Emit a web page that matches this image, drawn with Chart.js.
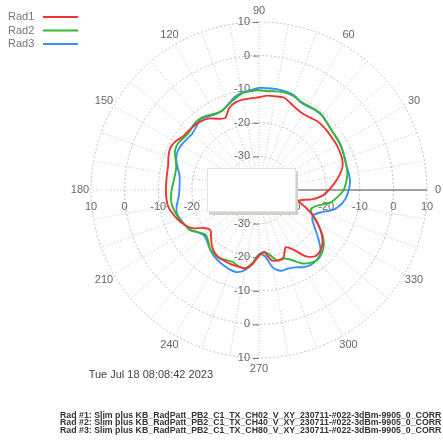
<!DOCTYPE html>
<html>
<head>
<meta charset="utf-8">
<script src="https://cdn.jsdelivr.net/npm/chart.js@4"></script>
<style>
  body { margin: 0; background: #fff; }
  #wrap { position: relative; width: 443px; height: 447px; overflow: hidden; }
  #stamp { position: absolute; right: 230px; top: 368px; font: 11px "Liberation Sans", Arial, sans-serif; color: #444; white-space: nowrap; }
  #footer { position: absolute; right: 2px; top: 412px; font: bold 8.5px/7.4px "Liberation Sans", Arial, sans-serif; color: #333; white-space: nowrap; text-align: right; transform-origin: right top; }
</style>
</head>
<body>
<div id="wrap">
  <canvas id="grafico" width="443" height="447"></canvas>
  <div id="stamp">Tue Jul 18 08:08:42 2023</div>
  <div id="footer"></div>
</div>
<script>
// angulos (graus, anti-horario a partir da direita)
const angulos = [0,5,10,15,20,25,30,35,40,45,50,55,60,65,70,75,80,85,90,95,100,105,110,115,
  120,125,130,135,140,145,150,155,160,165,170,175,180,185,190,195,200,205,210,215,220,225,230,235,
  240,245,250,255,260,265,270,275,280,285,290,295,300,305,310,315,320,325,330,335,340,345,350,355];

const rad1 = [-19.2,-17.5,-15.8,-14.3,-13.6,-13.4,-13.3,-13.3,-13.2,-13.1,-13.2,-13.6,-13.8,-13.4,-12.5,-11.5,-11.7,-11.8,
  -12.4,-12.6,-12.7,-13.0,-14.0,-16.3,-15.5,-14.0,-13.2,-12.8,-12.6,-12.3,-11.2,-10.8,-11.3,-12.0,-12.2,-12.3,
  -12.3,-12.3,-12.5,-13.3,-14.3,-15.5,-17.2,-20.3,-21.2,-19.8,-18.2,-17.1,-16.6,-16.5,-16.4,-16.4,-16.3,-17.8,
  -20.5,-21.3,-18.8,-18.3,-18.6,-21.2,-19.5,-16.0,-14.2,-14.3,-15.3,-17.3,-19.8,-22.3,-25.5,-27.8,-24.0,-21.0];

const rad2 = [-14.8,-14.0,-13.3,-13.0,-12.8,-12.5,-12.3,-12.2,-12.0,-11.5,-10.9,-10.8,-11.0,-10.9,-10.2,-10.0,-10.2,-10.5,
  -10.3,-10.5,-10.8,-12.0,-13.0,-14.0,-13.8,-13.0,-12.4,-12.5,-13.0,-12.8,-12.2,-12.4,-13.6,-14.5,-14.6,-14.4,
  -14.0,-13.7,-13.7,-14.2,-14.8,-15.6,-16.3,-18.0,-19.3,-18.6,-17.3,-16.7,-16.5,-17.0,-17.2,-16.5,-16.3,-18.3,
  -20.8,-21.5,-20.2,-18.2,-18.3,-17.0,-14.8,-13.5,-12.9,-13.5,-14.8,-17.0,-19.7,-22.5,-23.5,-22.0,-18.5,-16.5];

const rad3 = [-13.3,-12.8,-12.8,-13.0,-12.8,-12.5,-12.2,-12.1,-12.0,-11.5,-10.9,-10.9,-11.2,-11.0,-9.9,-9.6,-9.5,-9.6,
  -9.6,-10.2,-10.6,-11.5,-13.0,-14.0,-14.0,-13.3,-12.7,-13.5,-14.0,-13.7,-13.3,-13.2,-13.8,-15.0,-16.0,-16.3,
  -16.3,-16.0,-15.2,-14.6,-15.0,-15.6,-16.2,-18.0,-18.8,-18.2,-17.2,-16.3,-15.7,-15.2,-14.8,-14.7,-15.8,-17.9,
  -20.8,-20.3,-16.6,-15.1,-15.1,-14.6,-13.5,-12.9,-13.1,-14.0,-16.8,-19.5,-21.6,-22.2,-20.5,-17.2,-15.2,-14.0];

const nomes = ["Rad1", "Rad2", "Rad3"];
const cores = ["#f03434", "#34b834", "#3a8ffa"];
const niveis = [-30, -20, -10, 0, 10];
const rotulosAngulo = [0, 30, 60, 90, 120, 150, 180, 210, 240, 270, 300, 330];
const arquivos = [
  "Rad #1: Slim plus KB_RadPatt_PB2_C1_TX_CH02_V_XY_230711-#022-3dBm-9905_0_CORR",
  "Rad #2: Slim plus KB_RadPatt_PB2_C1_TX_CH40_V_XY_230711-#022-3dBm-9905_0_CORR",
  "Rad #3: Slim plus KB_RadPatt_PB2_C1_TX_CH80_V_XY_230711-#022-3dBm-9905_0_CORR"
];

// radar vai no sentido horario, entao reordena: indice i -> angulo 360 - 5i
const ordem = angulos.map((a, i) => (angulos.length - i) % angulos.length);
const reordenar = arr => ordem.map(k => arr[k]);

const fonte = '11px "Liberation Sans", Arial, sans-serif';

const extras = {
  id: 'extras',
  beforeDatasetsDraw(chart) {
    const s = chart.scales.r, ctx = chart.ctx;
    ctx.save();
    ctx.font = fonte;
    ctx.fillStyle = '#666';
    ctx.strokeStyle = '#777';
    ctx.lineWidth = 1;
    niveis.forEach(v => {
      const d = s.getDistanceFromCenterForValue(v);
      // eixo vertical (cima e baixo)
      ctx.textAlign = 'right';
      ctx.textBaseline = 'middle';
      [s.yCenter - d, s.yCenter + d].forEach(y => {
        ctx.fillText(String(v), s.xCenter - 9, y);
        ctx.beginPath();
        ctx.moveTo(s.xCenter - 6, y + 0.5);
        ctx.lineTo(s.xCenter, y + 0.5);
        ctx.stroke();
      });
      // eixo horizontal
      ctx.textAlign = 'center';
      [s.xCenter - d, s.xCenter + d].forEach(x => ctx.fillText(String(v), x, s.yCenter + 17));
    });
    ctx.restore();
  },
  afterDatasetsDraw(chart) {
    const ctx = chart.ctx;
    ctx.save();
    // caixa branca sobre o centro
    ctx.fillStyle = '#d2d2ca';
    ctx.fillRect(209, 171, 89, 44);
    ctx.fillStyle = '#fff';
    ctx.fillRect(207, 168, 89, 44);
    ctx.strokeStyle = '#e2e2e2';
    ctx.strokeRect(207.5, 168.5, 88, 43);
    ctx.restore();
  },
  afterDraw(chart) {
    const s = chart.scales.r, ctx = chart.ctx;
    ctx.save();
    ctx.font = fonte;
    ctx.fillStyle = '#666';
    ctx.textAlign = 'center';
    ctx.textBaseline = 'middle';
    rotulosAngulo.forEach(a => {
      const idx = chart.data.labels.indexOf(a);
      const p = s.getPointPosition(idx, s.drawingArea + 11);
      ctx.fillText(String(a), p.x, p.y);
    });
    // legenda
    ctx.textAlign = 'left';
    chart.data.datasets.forEach((ds, i) => {
      const y = 17 + i * 13.5;
      ctx.fillStyle = '#777';
      ctx.fillText(ds.label, 8, y);
      ctx.strokeStyle = ds.borderColor;
      ctx.lineWidth = 2;
      ctx.beginPath();
      ctx.moveTo(43, y);
      ctx.lineTo(78, y);
      ctx.stroke();
    });
    ctx.restore();
  }
};

const ctx = document.getElementById('grafico').getContext('2d');
const chart = new Chart(ctx, {
  type: 'radar',
  data: {
    labels: reordenar(angulos),
    datasets: [rad1, rad2, rad3].map((d, i) => ({
      label: nomes[i],
      data: reordenar(d),
      borderColor: cores[i],
      borderWidth: 1.9,
      fill: false,
      pointRadius: 0,
      tension: 0.25
    }))
  },
  options: {
    responsive: false,
    animation: false,
    layout: { padding: { left: 91, right: 16, top: 22, bottom: 89 } },
    plugins: { legend: { display: false }, tooltip: { enabled: false } },
    scales: {
      r: {
        min: -40,
        max: 10,
        startAngle: 90,
        ticks: { display: false, stepSize: 10 },
        pointLabels: { display: false },
        grid: { circular: true, color: '#bdbdbd', lineWidth: 1 },
        border: { dash: [2, 2] },
        angleLines: {
          color: c => c.index === 0 ? '#444' : '#c4c4c4',
          lineWidth: c => c.index % 2 ? 0 : 1,
          borderDash: c => c.index === 0 ? [] : [1, 2]
        }
      }
    }
  },
  plugins: [extras]
});

// rodape
const rod = document.getElementById('footer');
rod.innerHTML = arquivos.join('<br>');
const larg = rod.scrollWidth;
rod.style.transform = 'scaleX(' + (381 / larg) + ')';
</script>
</body>
</html>
